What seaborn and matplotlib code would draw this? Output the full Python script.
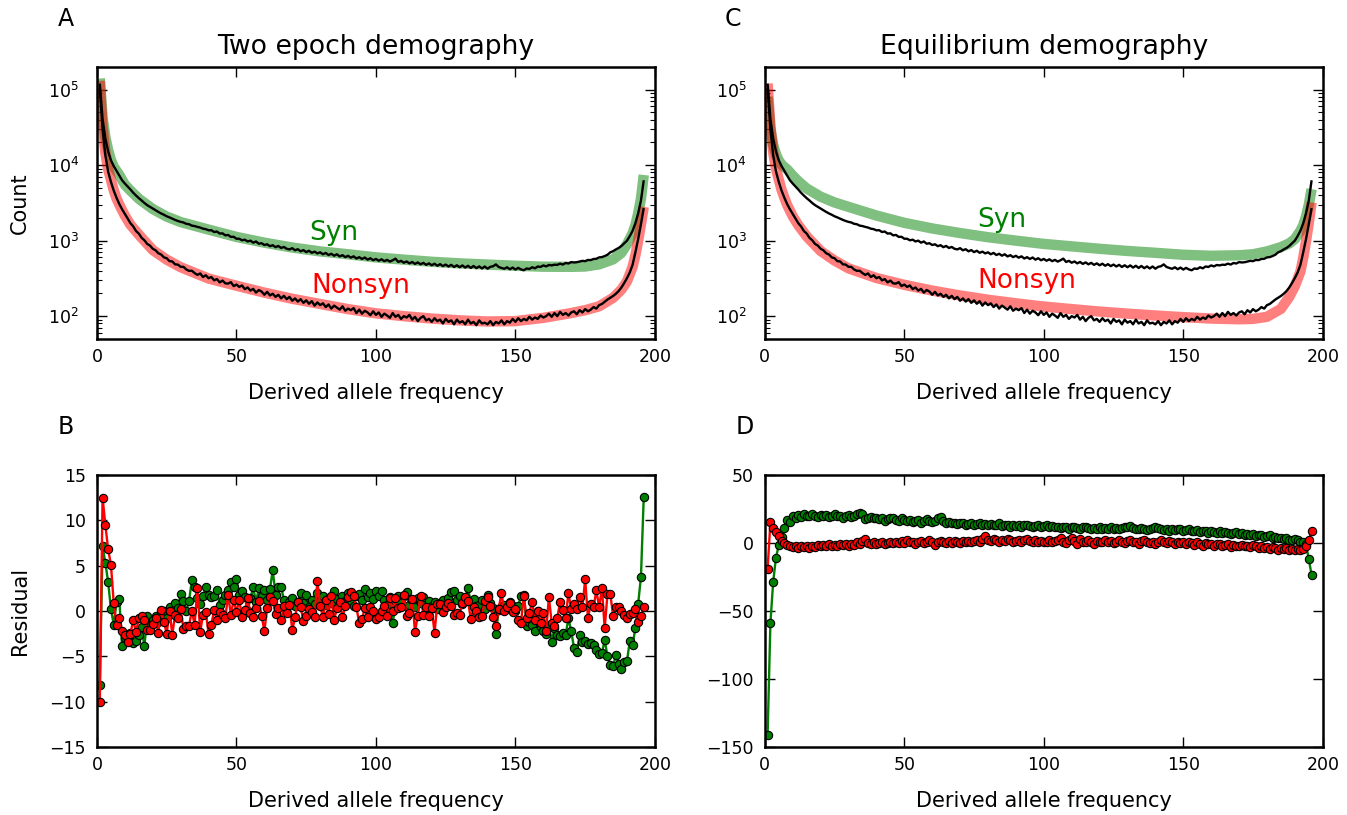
import numpy as np
import matplotlib
matplotlib.use("Agg")
import matplotlib.pyplot as plt
import seaborn as sns
from matplotlib.ticker import MultipleLocator, LogLocator, NullFormatter

# ---------------- data ----------------
freq = np.arange(1, 197)

syn_obs = [
    120000, 41000, 22500, 15200, 11600, 9700, 8400, 7300, 6300, 5700,
    5200, 4750, 4300, 3950, 3650, 3400, 3150, 2950, 2800, 2650,
    2520, 2400, 2290, 2200, 2100, 2030, 1950, 1880, 1820, 1770,
    1740, 1670, 1650, 1580, 1560, 1520, 1490, 1440, 1420, 1370,
    1375, 1300, 1320, 1240, 1250, 1175, 1190, 1120, 1125, 1060,
    1060, 1010, 1030, 975, 1000, 940, 975, 910, 925, 875,
    895, 845, 870, 820, 850, 800, 825, 780, 765, 795,
    745, 770, 722, 750, 705, 735, 690, 715, 678, 700,
    660, 688, 645, 670, 632, 660, 618, 642, 605, 630,
    595, 620, 580, 604, 572, 598, 560, 585, 550, 572,
    542, 566, 535, 556, 528, 550, 578, 522, 540, 510,
    530, 500, 522, 492, 515, 486, 508, 478, 500, 472,
    495, 465, 488, 460, 482, 455, 478, 448, 472, 445,
    470, 440, 465, 435, 462, 432, 456, 428, 455, 425,
    450, 458, 485, 448, 435, 424, 444, 418, 440, 414,
    436, 416, 405, 428, 422, 444, 430, 455, 448, 470,
    456, 476, 470, 480, 478, 496, 482, 506, 498, 520,
    514, 518, 528, 540, 535, 555, 552, 572, 575, 600,
    605, 625, 650, 700, 725, 765, 800, 850, 920, 1000,
    1150, 1350, 1700, 2300, 3400, 6300,
]

nonsyn_obs = [
    105000, 30000, 13500, 8200, 6000, 4600, 3700, 3050, 2600, 2250,
    1960, 1700, 1540, 1340, 1240, 1090, 1010, 905, 860, 780,
    745, 680, 655, 600, 585, 535, 530, 485, 482, 450,
    450, 415, 398, 400, 372, 352, 368, 330, 348, 318,
    330, 298, 310, 280, 296, 272, 270, 282, 250, 262,
    244, 255, 228, 240, 218, 230, 205, 222, 212, 192,
    210, 188, 198, 180, 192, 172, 186, 168, 180, 160,
    172, 156, 168, 150, 162, 146, 158, 138, 152, 140,
    148, 132, 143, 126, 138, 130, 122, 135, 118, 126,
    120, 128, 110, 122, 108, 118, 112, 103, 116, 104,
    112, 98, 108, 102, 95, 110, 98, 104, 92, 100,
    96, 104, 90, 98, 86, 95, 100, 88, 92, 84,
    94, 86, 90, 80, 92, 84, 88, 78, 90, 82,
    86, 78, 90, 80, 84, 76, 88, 80, 82, 78,
    86, 76, 84, 80, 88, 78, 86, 82, 92, 84,
    94, 86, 92, 88, 98, 90, 96, 92, 102, 96,
    100, 108, 98, 110, 100, 114, 104, 110, 102, 112,
    116, 106, 120, 112, 124, 116, 122, 132, 126, 140,
    145, 155, 166, 175, 185, 198, 215, 240, 275, 320,
    380, 480, 700, 1050, 1650, 2700,
]

model_freq = [1, 2, 3, 4, 5, 6, 7, 8, 10, 12, 15, 20, 25, 30, 40, 50, 60, 70, 80,
              90, 100, 110, 120, 130, 140, 150, 160, 170, 175, 180, 185, 188, 190,
              192, 193, 194, 195, 196]

syn_two_epoch = [140000, 43000, 23500, 15800, 11700, 9500, 8400, 7400, 5500, 4600,
                 3580, 2620, 2080, 1760, 1400, 1120, 940, 810, 720, 660, 600, 560,
                 525, 500, 482, 465, 452, 450, 455, 485, 565, 690, 900, 1250, 1600,
                 2300, 3600, 7400]
nonsyn_two_epoch = [130000, 32000, 14600, 8800, 6400, 4650, 3620, 3000, 2140, 1620,
                    1200, 750, 560, 445, 315, 253, 205, 170, 145, 124, 109, 100, 93,
                    88, 85, 86, 95, 110, 120, 135, 175, 225, 290, 450, 640, 1000,
                    1650, 2800]
syn_equilibrium = [80000, 30000, 18500, 13900, 11500, 10200, 9400, 8800, 7250, 6100,
                   4900, 3820, 3200, 2800, 2150, 1720, 1450, 1260, 1110, 1000, 905,
                   840, 780, 730, 690, 650, 630, 640, 660, 720, 820, 920, 1050, 1350,
                   1600, 2100, 3000, 4800]
nonsyn_equilibrium = [120000, 32600, 14800, 8960, 6420, 4700, 3700, 2970, 2100, 1600,
                      1140, 730, 545, 430, 320, 260, 218, 188, 165, 148, 134, 124, 115,
                      108, 102, 97, 93, 91, 92, 98, 125, 180, 250, 390, 590, 990, 1720,
                      3200]

resid_two_epoch_syn = [
    -8.2, 7.2, 5.3, 3.2, 0.2, -1.5, 1.0, 1.3, -3.9, -3.0,
    -3.2, -2.4, -3.5, -3.3, -2.6, -1.8, -3.9, -0.5, -1.8, -1.0,
    -0.6, -1.2, -0.3, 0.0, -0.8, 0.4, -0.2, 0.9, 0.3, 1.9,
    1.1, 0.0, 1.1, 3.4, 2.6, 1.4, 0.8, 1.6, 2.6, 1.8,
    1.5, 1.6, 2.3, 0.7, 1.2, 1.8, 2.3, 3.2, 2.7, 3.5,
    1.8, 2.2, 1.5, 0.0, 1.4, 2.6, 1.0, 2.5, 1.6, 2.3,
    1.2, 2.4, 4.5, 1.8, 2.6, 2.7, 1.2, 0.6, 1.0, 1.4,
    0.5, 1.0, 2.0, 0.9, 1.8, 0.4, 1.2, 0.8, 2.0, 1.1,
    1.6, 0.7, 1.4, 0.9, 2.2, 1.3, 0.8, 1.6, 1.1, 2.0,
    1.0, 0.6, 1.6, 1.9, 1.2, 2.4, 1.5, 2.0, 1.3, 2.2,
    1.6, 2.2, 1.2, 0.7, 1.5, -1.3, 0.6, 1.6, 0.9, 1.6,
    2.1, 0.7, 1.2, 0.4, 1.4, 0.9, 1.5, 0.3, 1.1, 0.5,
    1.0, 0.2, 0.9, 1.2, 0.6, 1.4, 2.1, 2.2, 1.2, 1.6,
    0.8, 1.4, 2.5, 1.0, 1.3, 0.5, 0.7, 1.2, 0.2, 1.8,
    0.9, 0.3, -2.5, 0.1, 0.4, 0.7, 0.2, 1.0, 0.5, 0.0,
    0.6, 1.6, 1.8, -1.7, -1.2, -1.5, -2.2, 0.0, -1.8, -2.2,
    -2.5, -1.5, -3.4, -1.9, -2.6, -2.8, -2.4, -2.6, -0.8, -2.2,
    -4.1, -4.5, -2.7, -3.4, -3.3, -3.6, -3.5, -3.7, -4.3, -4.7,
    -4.6, -3.2, -5.0, -6.0, -6.1, -4.9, -5.8, -6.4, -5.6, -5.5,
    -3.3, -3.7, -1.9, 0.8, 3.8, 12.6,
]

resid_two_epoch_nonsyn = [
    -10.0, 12.5, 9.5, 6.8, 5.1, 0.9, -1.5, -0.8, -2.2, -2.6,
    -3.4, -2.5, -1.0, -2.3, -0.8, -0.5, -1.0, -2.1, -2.1, -1.4,
    -0.8, -2.4, 0.1, -1.2, -2.5, 0.0, -2.6, -0.4, -0.8, 0.2,
    -2.0, -1.7, -1.6, 0.0, -1.5, 2.5, -2.3, -0.4, -0.1, -2.5,
    -1.5, 0.1, -1.0, -0.1, -0.4, -0.8, 1.8, -0.4, 1.2, -0.1,
    1.2, -0.7, 0.1, 1.4, -0.2, -0.7, 0.3, 1.1, -0.5, -2.2,
    0.3, 1.5, 1.1, -0.3, 0.3, -1.0, 0.5, -0.2, 0.7, -2.1,
    -0.7, 1.0, 0.4, -1.1, -0.6, 0.2, -0.1, -0.7, 3.3, 0.6,
    -0.7, 1.2, -0.3, 1.6, -1.0, 0.3, 1.0, -0.7, 0.5, 1.5,
    2.1, 1.6, 0.4, -1.3, -0.9, 0.3, -0.7, 0.4, 0.0, -0.9,
    -0.7, 0.0, 0.5, -0.6, 1.4, 0.0, 1.4, 0.3, 0.4, 1.8,
    -0.5, -0.2, 1.3, -2.3, -0.5, 1.7, -0.4, 0.4, -0.5, 0.3,
    -2.4, 0.8, 0.8, -0.1, 0.4, 0.9, 0.6, -0.4, -0.2, -0.4,
    0.9, 1.5, 1.1, -0.9, 0.4, 0.0, -0.7, -0.6, 1.1, 1.5,
    0.6, -0.7, -1.6, 0.2, 2.0, 0.0, 0.4, 0.9, -0.1, 0.2,
    -1.0, -1.3, 1.7, -0.8, -0.2, 1.0, -1.0, 0.0, -1.3, -0.2,
    -2.2, 1.5, -1.3, -1.7, -0.8, 1.0, 0.1, -0.8, 2.0, 0.2,
    0.8, 0.2, 1.5, 0.4, 3.5, -0.8, 0.8, 0.4, 2.3, 0.4,
    2.5, -1.9, 1.9, 1.9, -0.5, 0.4, 0.4, 0.0, -0.4, -0.8,
    -0.3, -0.2, 0.2, -1.2, -0.6, 0.4,
]

resid_equilibrium_syn = [
    -141, -59, -28.4, -10.8, -1.5, 4.7, 10.8, 17.0, 15.7, 19.5,
    18.5, 20.5, 19.0, 21.0, 20.0, 19.5, 21.5, 20.0, 19.0, 20.5,
    19.5, 20.5, 19.0, 20.0, 21.0, 19.5, 20.0, 18.5, 19.5, 20.5,
    19.0, 20.0, 21.0, 22.0, 21.5, 17.5, 18.5, 19.0, 18.0, 18.5,
    17.5, 18.0, 16.0, 17.5, 18.5, 18.0, 17.0, 16.5, 18.0, 17.0,
    16.5, 17.0, 15.5, 16.0, 17.0, 15.0, 16.0, 17.5, 16.5, 15.5,
    16.0, 18.0, 19.0, 16.5, 15.0, 15.5, 14.5, 15.0, 14.0, 15.0,
    14.5, 13.5, 14.0, 15.0, 13.5, 14.0, 14.5, 13.0, 14.0, 13.5,
    14.0, 13.0, 13.5, 14.5, 12.5, 13.5, 13.0, 12.0, 13.5, 12.5,
    13.0, 12.0, 13.0, 13.5, 12.5, 11.5, 12.5, 13.0, 12.0, 12.5,
    13.0, 12.0, 12.5, 11.5, 12.0, 11.0, 12.0, 11.5, 10.5, 11.5,
    12.0, 11.0, 10.5, 11.5, 12.0, 11.0, 10.0, 11.0, 10.5, 11.5,
    10.5, 11.0, 10.0, 11.5, 10.5, 11.0, 10.0, 11.0, 11.5, 12.0,
    12.5, 11.0, 10.5, 10.0, 11.0, 10.5, 9.5, 10.0, 11.0, 12.0,
    11.0, 10.5, 9.5, 10.0, 9.0, 10.5, 9.5, 10.0, 10.5, 9.0,
    9.5, 10.5, 9.0, 8.5, 9.5, 8.0, 9.0, 8.5, 7.5, 8.5,
    8.0, 7.5, 8.5, 7.0, 8.0, 7.5, 6.5, 7.0, 8.0, 6.5,
    7.0, 6.0, 6.5, 5.5, 6.5, 5.0, 6.0, 5.5, 4.5, 5.0,
    5.5, 4.0, 4.5, 3.5, 4.0, 3.0, 3.5, 2.5, 2.0, 3.0,
    2.0, 1.0, 0.5, -1.0, -12.0, -23.5,
]

resid_equilibrium_nonsyn = [
    -19.0, 15.2, 11.3, 8.3, 5.4, 1.5, 0.0, -1.5, -2.2, -3.2,
    -2.5, -3.5, -2.0, -3.0, -2.5, -3.5, -2.0, -2.8, -1.5, -2.5,
    -1.8, -2.5, -1.0, -2.0, -1.5, -2.2, -0.8, -1.5, -1.0, -2.0,
    -0.5, -1.2, 0.5, -0.8, 1.5, 2.7, 0.2, -0.5, 0.8, -0.8,
    -0.2, 0.5, -0.5, 0.2, 1.0, -0.3, 0.5, 0.0, 1.2, 0.3,
    2.0, 0.5, 1.0, -0.5, 0.8, 1.5, -0.3, 0.5, 2.0, 1.0,
    -1.5, 0.5, 1.8, 1.0, 0.0, 1.2, 0.3, 1.5, 0.8, 0.0,
    1.2, 0.5, 1.8, 0.8, 1.5, 2.0, 0.5, 3.0, 5.0, 2.5,
    1.5, 3.0, 2.0, 1.0, 2.5, 1.5, 3.0, 2.0, 0.5, 1.5,
    2.5, 1.0, 2.0, 3.0, 1.5, 0.5, 2.0, 1.0, 1.5, 0.5,
    1.0, 2.0, 0.5, 1.5, 2.5, 3.5, 1.0, 0.0, 2.5, 3.5,
    1.5, -0.5, 3.0, 1.0, 0.5, 2.0, 1.0, -1.0, 1.5, 0.5,
    1.0, 2.0, 0.5, 1.5, 0.0, 1.0, 2.0, 1.0, 0.0, 1.5,
    2.0, 0.5, 1.0, -0.5, 1.5, 2.5, 1.0, 0.0, 1.0, -1.0,
    0.5, 2.0, 1.0, 0.0, 1.5, 0.5, -0.5, 1.0, 0.0, 0.5,
    -1.0, 0.5, 0.0, -1.5, 0.5, -0.5, -2.0, 0.0, -1.0, -0.5,
    -2.0, -1.0, -0.5, -2.5, -1.5, -1.0, -3.0, -1.5, -2.0, -2.5,
    -1.5, -2.5, -2.0, -3.0, -1.5, -2.5, -3.5, -2.0, -4.0, -3.0,
    -4.5, -3.0, -4.0, -5.0, -3.5, -4.5, -4.0, -5.0, -4.5, -5.0,
    -4.5, -5.5, -4.5, -2.0, 2.0, 9.1,
]

# ---------------- style ----------------
sns.set_theme(style="ticks", rc={
    "xtick.direction": "in", "ytick.direction": "in",
    "xtick.top": True, "ytick.right": True,
    "xtick.major.size": 7, "ytick.major.size": 7,
    "xtick.minor.size": 3.5, "ytick.minor.size": 3.5,
    "xtick.major.width": 1.0, "ytick.major.width": 1.0,
    "xtick.minor.width": 0.8, "ytick.minor.width": 0.8,
    "xtick.major.pad": 6.5, "ytick.major.pad": 8,
    "axes.linewidth": 1.8, "axes.edgecolor": "black",
    "xtick.color": "black", "ytick.color": "black",
    "text.color": "black", "axes.labelcolor": "black",
    "xtick.labelsize": 12.5, "ytick.labelsize": 12.5,
    "axes.labelsize": 15, "axes.titlesize": 19.2,
    "lines.solid_capstyle": "butt",
})
plt.rcParams["font.family"] = ["DejaVu Sans"]

fig, axes = plt.subplots(2, 2, figsize=(13.47, 8.15), dpi=100)
fig.subplots_adjust(left=0.072, right=0.982, top=0.918, bottom=0.0834,
                    wspace=0.197, hspace=0.5)

GREEN = "#008000"
RED = "#ff0000"


def spectrum(ax, m_syn, m_non, title, syn_xy, non_xy):
    sns.lineplot(x=model_freq, y=m_syn, ax=ax, color=GREEN, alpha=0.5, lw=7.5,
                 estimator=None, sort=False)
    sns.lineplot(x=model_freq, y=m_non, ax=ax, color=RED, alpha=0.5, lw=7.5,
                 estimator=None, sort=False)
    sns.lineplot(x=freq, y=syn_obs, ax=ax, color="black", lw=1.7,
                 estimator=None, sort=False)
    sns.lineplot(x=freq, y=nonsyn_obs, ax=ax, color="black", lw=1.7,
                 estimator=None, sort=False)
    ax.set_yscale("log")
    ax.set_ylim(50, 2e5)
    ax.set_xlim(0, 200)
    ax.yaxis.set_major_locator(LogLocator(base=10, numticks=10))
    ax.yaxis.set_minor_locator(LogLocator(base=10, subs=np.arange(2, 10), numticks=20))
    ax.yaxis.set_minor_formatter(NullFormatter())
    ax.xaxis.set_major_locator(MultipleLocator(50))
    ax.tick_params(axis="y", which="major", pad=13)
    ax.set_title(title, pad=9)
    ax.set_xlabel("Derived allele frequency", labelpad=12.5)
    ax.text(syn_xy[0], syn_xy[1], "Syn", color=GREEN, fontsize=19,
            ha="center", va="center")
    ax.text(non_xy[0], non_xy[1], "Nonsyn", color=RED, fontsize=19,
            ha="center", va="center")


def residuals(ax, r_syn, r_non):
    sns.lineplot(x=freq, y=r_syn, ax=ax, color=GREEN, lw=1.7, marker="o",
                 markersize=6, markerfacecolor=GREEN, markeredgecolor="black",
                 markeredgewidth=0.8, estimator=None, sort=False)
    sns.lineplot(x=freq, y=r_non, ax=ax, color=RED, lw=1.7, marker="o",
                 markersize=6, markerfacecolor=RED, markeredgecolor="black",
                 markeredgewidth=0.8, estimator=None, sort=False)
    ax.set_xlim(0, 200)
    ax.xaxis.set_major_locator(MultipleLocator(50))
    ax.set_xlabel("Derived allele frequency", labelpad=12.5)
    ax.minorticks_off()


axA, axC = axes[0]
axB, axD = axes[1]

spectrum(axA, syn_two_epoch, nonsyn_two_epoch, "Two epoch demography",
         (85, 1280), (94.5, 250))
axA.set_ylabel("Count")
spectrum(axC, syn_equilibrium, nonsyn_equilibrium, "Equilibrium demography",
         (85, 1900), (94, 290))
axC.set_ylabel("")

residuals(axB, resid_two_epoch_syn, resid_two_epoch_nonsyn)
axB.set_ylim(-15, 15)
axB.yaxis.set_major_locator(MultipleLocator(5))
axB.set_ylabel("Residual")

residuals(axD, resid_equilibrium_syn, resid_equilibrium_nonsyn)
axD.set_ylim(-150, 50)
axD.yaxis.set_major_locator(MultipleLocator(50))
axD.set_ylabel("")

for ax in (axA, axB):
    ax.yaxis.set_label_coords(-0.12, 0.5)

for ax in axes.flat:
    for s in ax.spines.values():
        s.set_visible(True)

for ax, letter, xoff in [(axA, "A", -0.056), (axC, "C", -0.058),
                         (axB, "B", -0.056), (axD, "D", -0.036)]:
    ax.text(xoff, 1.175, letter, transform=ax.transAxes, fontsize=17,
            ha="center", va="center")

fig.savefig("out.png", dpi=100)
